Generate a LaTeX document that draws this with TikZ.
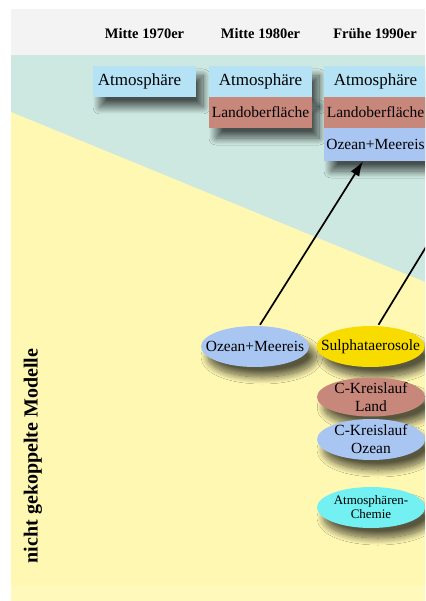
\documentclass[tikz,border=0pt]{standalone}
\usepackage{fontspec}
\setmainfont{Liberation Serif}
\usetikzlibrary{shapes.geometric,arrows.meta,shadows.blur}
\definecolor{hdrgray}{HTML}{F3F3F3}
\definecolor{teal1}{HTML}{CDE8E0}
\definecolor{yel1}{HTML}{FFF8B2}
\definecolor{yel2}{HTML}{FFF9BC}
\definecolor{atmblue}{HTML}{B5E2F5}
\definecolor{landbrown}{HTML}{C8877B}
\definecolor{oceanblue}{HTML}{A9C6F2}
\definecolor{sulphgold}{HTML}{F8DC00}
\definecolor{chemcyan}{HTML}{72F0F2}
\tikzset{
  hdr/.style={font=\fontsize{14.5}{16}\selectfont\bfseries},
  shad/.style={blur shadow={shadow xshift=7pt, shadow yshift=-10pt, shadow blur radius=7pt, shadow opacity=65, shadow blur steps=14}},
  compbox/.style={rectangle, minimum width=103pt, minimum height=31pt, inner sep=0pt, shad},
  compell/.style={ellipse, minimum width=108pt, minimum height=41pt, inner sep=0pt, shad},
  eltext/.style={align=center, inner sep=0pt},
  bigtxt/.style={font=\fontsize{17}{18}\selectfont},
  midtxt/.style={font=\fontsize{15.5}{19}\selectfont},
  smalltxt/.style={font=\fontsize{13}{14}\selectfont},
  conn/.style={line width=1.7pt, black, -{Latex[length=15pt,width=10pt]}},
  connplain/.style={line width=1.7pt, black}
}
\begin{document}
\begin{tikzpicture}[x=1pt,y=-1pt]
\useasboundingbox (0,0) rectangle (425,601);
\clip (0,0) rectangle (425,601);
% backgrounds
\fill[white] (0,0) rectangle (425,601);
\fill[hdrgray] (11,9) rectangle (425,55);
\fill[teal1] (11,55) rectangle (425,586);
\fill[yel1] (11,112) -- (425,282) -- (425,586) -- (11,586) -- cycle;
\fill[yel2] (11,586) rectangle (425,601);
% headers
\node[hdr] (h1) at (144.5,34) {Mitte 1970er};
\node[hdr] (h2) at (260.5,34) {Mitte 1980er};
\node[hdr] (h3) at (375,34) {Frühe 1990er};
% 1970 column
\node[compbox, fill=atmblue, bigtxt] (a70) at (144.5,81.5) {\hspace*{-10pt}Atmosphäre};
% 1980 column
\node[compbox, fill=atmblue, bigtxt] (a80) at (260.5,81.5) {Atmosphäre};
\node[compbox, fill=landbrown, midtxt] (l80) at (260.5,112.5) {Landoberfläche};
% 1990 column
\node[compbox, fill=atmblue, bigtxt] (a90) at (375.5,81.5) {Atmosphäre};
\node[compbox, fill=landbrown, midtxt] (l90) at (375.5,112.5) {Landoberfläche};
\node[compbox, fill=oceanblue, midtxt, minimum height=33pt] (o90) at (375.5,144.5) {Ozean+Meereis};
% ellipses
\node[compell, fill=oceanblue] (oe) at (255,346.5) {};
\node[eltext, midtxt] (oet) at (oe) {Ozean+Meereis};
\node[compell, fill=sulphgold] (se) at (370.5,346.5) {};
\node[eltext, midtxt] (set) at (se) {Sulphataerosole};
\node[compell, fill=landbrown, minimum height=39pt] (cl) at (371,397) {};
\node[eltext, midtxt] (clt) at (cl) {C-Kreislauf\\[-1pt]Land};
\node[compell, fill=oceanblue] (co) at (371,439.5) {};
\node[eltext, midtxt] (cot) at (co) {C-Kreislauf\\[-1pt]Ozean};
\node[compell, fill=chemcyan] (ac) at (371,507.5) {};
\node[eltext, smalltxt] (act) at (ac) {Atmosphären-\\Chemie};
% side label
\node[rotate=90, font=\fontsize{20}{22}\selectfont\bfseries] (side) at (33,456) {nicht gekoppelte Modelle};
% connectors
\coordinate (out1) at (440,224);
\coordinate (out2) at (440,394);
\draw[conn] (oe.north) ++(5,-1) -- (o90.south -| 363,0);
\draw[connplain] (se.north) ++(8,-1) -- (out1);
\draw[connplain] (cl.east) -- (out2);
\end{tikzpicture}
\end{document}
